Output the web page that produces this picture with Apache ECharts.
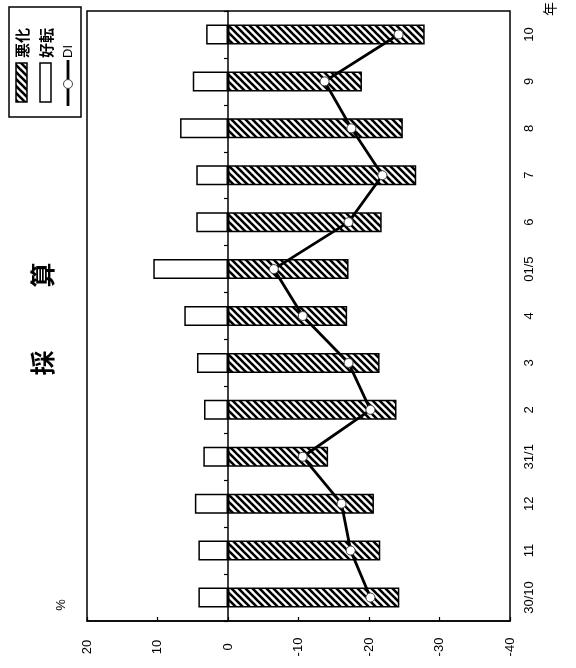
<!DOCTYPE html>
<html>
<head>
<meta charset="utf-8">
<script src="https://cdn.jsdelivr.net/npm/echarts@6/dist/echarts.min.js"></script>
<style>
html,body{margin:0;padding:0;background:#fff;}
#chart{width:576px;height:668px;}
</style>
</head>
<body>
<div id="chart"></div>
<script>
const categories = ['30/10','11','12','31/1','2','3','4','01/5','6','7','8','9','10'];
const worsened = [-24.3,-21.6,-20.7,-14.2,-23.9,-21.5,-16.9,-17.1,-21.8,-26.7,-24.8,-19.0,-27.9];
const improved = [4.2,4.2,4.7,3.5,3.4,4.4,6.2,10.6,4.5,4.5,6.8,5.0,3.1];
const diValues = [-20.2,-17.4,-16.1,-10.6,-20.2,-17.1,-10.6,-6.5,-17.1,-21.9,-17.5,-13.7,-24.2];
const seriesNames = ['悪化','好転','DI'];
const valueTicks = [-40,-30,-20,-10,0,10,20];

const FONT = '"Liberation Sans", Arial, sans-serif';
const JFONT = '"Noto Sans CJK JP", sans-serif';

function hatch() {
  const s = 7;
  const c = document.createElement('canvas');
  c.width = s; c.height = s;
  const g = c.getContext('2d');
  g.fillStyle = '#fff'; g.fillRect(0,0,s,s);
  g.strokeStyle = '#000'; g.lineWidth = 2.6;
  for (let k = -1; k <= 1; k++) {
    g.beginPath(); g.moveTo(k*s - 1, -1); g.lineTo(k*s + s + 1, s + 1); g.stroke();
  }
  return c;
}
const hatchPattern = {image: hatch(), repeat: 'repeat'};

const chart = echarts.init(document.getElementById('chart'), null, {renderer: 'canvas'});
const option = {
  animation: false,
  backgroundColor: '#fff',
  grid: {left: 87, right: 66, top: 11, bottom: 47, show: true, borderColor: '#000', borderWidth: 1.5, backgroundColor: 'transparent'},
  xAxis: {
    type: 'value', min: -40, max: 20, interval: 10, inverse: true, position: 'bottom',
    axisLine: {show: true, onZero: false, lineStyle: {color: '#000', width: 1.5}},
    axisTick: {show: true, inside: true, length: 4, lineStyle: {color: '#000', width: 1.2}},
    splitLine: {show: false},
    axisLabel: {rotate: 90, margin: 26, align: 'center', verticalAlign: 'middle', color: '#000', fontSize: 13, fontFamily: FONT}
  },
  yAxis: [
    {
      type: 'category', data: categories, position: 'right',
      axisLine: {show: false, onZero: false},
      axisTick: {show: false},
      axisLabel: {rotate: 90, margin: 13, color: '#000', fontSize: 13, fontFamily: FONT}
    },
    {
      type: 'category', data: categories, position: 'left',
      axisLine: {show: true, onZero: true, lineStyle: {color: '#000', width: 1.5}},
      axisTick: {show: true, length: 4, lineStyle: {color: '#000', width: 1.2}},
      axisLabel: {show: false}
    }
  ],
  series: [
    {
      name: seriesNames[0], type: 'bar', yAxisIndex: 0, data: worsened, barWidth: 20, barGap: '-100%',
      itemStyle: {color: hatchPattern, borderColor: '#000', borderWidth: 1.5}, z: 2
    },
    {
      name: seriesNames[1], type: 'bar', yAxisIndex: 0, data: improved, barWidth: 20, barGap: '-100%',
      itemStyle: {color: '#fff', borderColor: '#000', borderWidth: 1.5}, z: 2
    },
    {
      name: seriesNames[2], type: 'line', yAxisIndex: 0, data: diValues,
      symbol: 'circle', symbolSize: 9,
      lineStyle: {color: '#000', width: 2.8},
      itemStyle: {color: '#fff', borderColor: '#444', borderWidth: 1},
      z: 5
    }
  ],
  graphic: [
    {type: 'rect', shape: {x: 9, y: 7, width: 72, height: 110}, style: {fill: '#fff', stroke: '#000', lineWidth: 1.5}},
    {type: 'rect', shape: {x: 16, y: 63, width: 11, height: 39}, style: {fill: hatchPattern, stroke: '#000', lineWidth: 1.5}},
    {type: 'rect', shape: {x: 40, y: 63, width: 11, height: 39}, style: {fill: '#fff', stroke: '#000', lineWidth: 1.5}},
    {type: 'line', shape: {x1: 68, y1: 60, x2: 68, y2: 106}, style: {stroke: '#000', lineWidth: 2.8}},
    {type: 'circle', shape: {cx: 68, cy: 84, r: 4.5}, style: {fill: '#fff', stroke: '#444', lineWidth: 1}},
    {type: 'text', x: 22, y: 58, rotation: Math.PI/2, style: {text: seriesNames[0], font: 'bold 15px ' + JFONT, fill: '#000', textAlign: 'left', textVerticalAlign: 'middle'}},
    {type: 'text', x: 46, y: 58, rotation: Math.PI/2, style: {text: seriesNames[1], font: 'bold 15px ' + JFONT, fill: '#000', textAlign: 'left', textVerticalAlign: 'middle'}},
    {type: 'text', x: 68, y: 58, rotation: Math.PI/2, style: {text: seriesNames[2], font: '13px ' + FONT, fill: '#000', textAlign: 'left', textVerticalAlign: 'middle'}},
    {type: 'text', x: 42, y: 363, rotation: Math.PI/2, style: {text: '採', font: 'bold 25px ' + JFONT, fill: '#000', textAlign: 'center', textVerticalAlign: 'middle'}},
    {type: 'text', x: 42, y: 275, rotation: Math.PI/2, style: {text: '算', font: 'bold 25px ' + JFONT, fill: '#000', textAlign: 'center', textVerticalAlign: 'middle'}},
    {type: 'text', x: 61, y: 605, rotation: Math.PI/2, style: {text: '%', font: '13px ' + FONT, fill: '#000', textAlign: 'center', textVerticalAlign: 'middle'}},
    {type: 'text', x: 550, y: 9, rotation: Math.PI/2, style: {text: '年', font: '14px ' + JFONT, fill: '#000', textAlign: 'center', textVerticalAlign: 'middle'}}
  ]
};
chart.setOption(option);
</script>
</body>
</html>
